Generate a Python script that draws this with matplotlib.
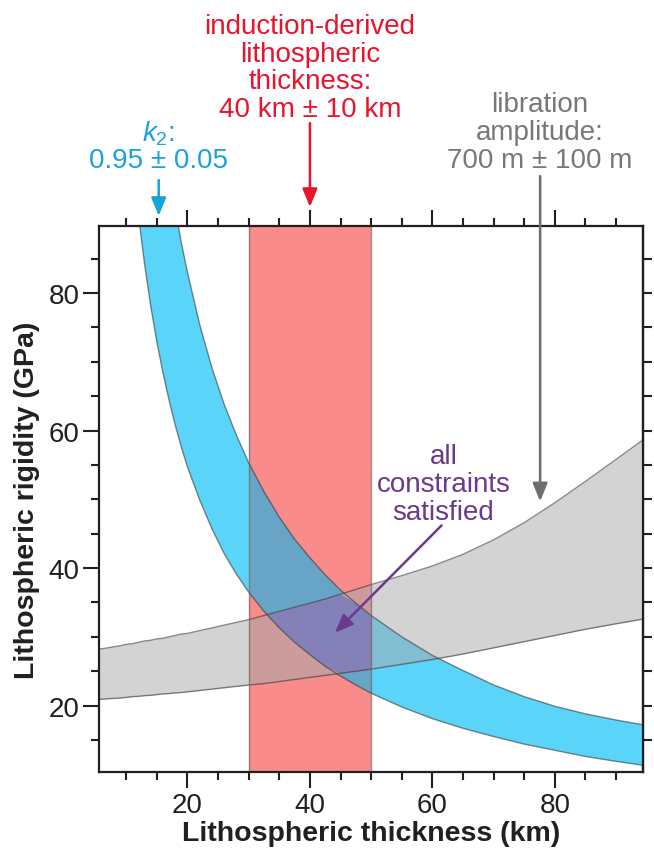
import numpy as np
import matplotlib
matplotlib.use('Agg')
import matplotlib.pyplot as plt
from matplotlib.ticker import MultipleLocator
from matplotlib.transforms import blended_transform_factory

plt.rcParams['font.family'] = ['Liberation Sans', 'DejaVu Sans']
plt.rcParams['mathtext.fontset'] = 'custom'
plt.rcParams['mathtext.rm'] = 'Liberation Sans'
plt.rcParams['mathtext.it'] = 'Liberation Sans:italic'

# lithospheric thickness (km) grid the curves were read at
thickness = np.array([5.5, 7, 9, 10, 11, 12, 13, 14, 15, 16, 17, 18, 19, 20, 22, 24, 26, 28,
                      30, 32.5, 35, 37.5, 40, 42.5, 45, 47.5, 50, 55, 60, 65, 70, 75, 80, 85, 90, 94.5])

# k2 = 0.95 +/- 0.05 band (rigidity, GPa)
k2_low = np.array([199, 156, 121.5, 109.4, 99.5, 91.2, 84.2, 78.1, 72.9, 68.4, 64.4, 60.8, 57.6, 54.7,
                   49.9, 45.7, 42.1, 39.1, 36.5, 33.7, 31.3, 29.2, 27.4, 25.7, 24.3, 23.0, 21.8,
                   19.8, 18.1, 16.7, 15.5, 14.4, 13.5, 12.6, 11.9, 11.3])
k2_high = np.array([302, 237, 184, 166, 151, 138, 128, 118.5, 110.6, 103.7, 97.6, 92.2, 87.3, 83.0,
                    75.4, 69.1, 63.8, 59.3, 55.3, 51.1, 47.4, 44.2, 41.5, 39.0, 36.8, 34.9, 33.1,
                    30.0, 27.3, 25.1, 23.0, 21.3, 19.9, 18.8, 17.9, 17.2])

# libration amplitude 700 m +/- 100 m band
lib_low = np.array([20.9, 21.0, 21.1, 21.2, 21.3, 21.35, 21.45, 21.5, 21.6, 21.7, 21.75, 21.85, 21.9, 22.0,
                    22.2, 22.4, 22.6, 22.8, 23.0, 23.2, 23.5, 23.8, 24.1, 24.4, 24.7, 25.0, 25.3,
                    26.0, 26.7, 27.5, 28.4, 29.3, 30.2, 31.1, 31.9, 32.6])
lib_high = np.array([28.2, 28.4, 28.7, 28.9, 29.0, 29.2, 29.4, 29.5, 29.7, 29.8, 30.0, 30.2, 30.4, 30.5,
                     30.9, 31.3, 31.7, 32.1, 32.5, 33.1, 33.7, 34.3, 34.9, 35.5, 36.2, 36.9, 37.6,
                     38.9, 40.3, 42.0, 44.1, 46.6, 49.5, 52.6, 55.8, 58.7])

# induction-derived thickness 40 +/- 10 km
ind_low, ind_high = 30, 50

c_blue = '#5AD5F9'
c_red = '#F98B8B'
c_gray = '#D3D3D3'
c_blue_gray = '#82BED2'
c_blue_red = '#68A4C6'
c_red_gray = '#CC9B9B'
c_all = '#8480B8'

t_blue = '#1AA3DA'
t_red = '#E8142E'
t_gray = '#77787B'
t_purple = '#6B3A8C'
dark = '#231F20'

fig = plt.figure(figsize=(6.54, 8.54), dpi=100)
ax = fig.add_axes([99 / 654, 1 - 773.3 / 854, (643.3 - 99) / 654, (773.3 - 227.3) / 854])

x = thickness
ax.fill_between(x, k2_low, k2_high, color=c_blue, lw=0)
ax.fill_between(x, lib_low, lib_high, color=c_gray, lw=0)
lo = np.maximum(k2_low, lib_low)
hi = np.minimum(k2_high, lib_high)
ax.fill_between(x, lo, hi, where=lo < hi, interpolate=True, color=c_blue_gray, lw=0)

ax.axvspan(ind_low, ind_high, color=c_red, lw=0)
m = (x >= ind_low) & (x <= ind_high)
ax.fill_between(x[m], k2_low[m], k2_high[m], color=c_blue_red, lw=0)
ax.fill_between(x[m], lib_low[m], lib_high[m], color=c_red_gray, lw=0)
ax.fill_between(x[m], lo[m], hi[m], where=lo[m] < hi[m], interpolate=True, color=c_all, lw=0)

for yy in (k2_low, k2_high, lib_low, lib_high):
    ax.plot(x, yy, color='#3a3a3a', lw=1.0, alpha=0.6)
for xv in (ind_low, ind_high):
    ax.axvline(xv, color='#6a6a6a', lw=1.0, alpha=0.7)

ax.set_xlim(5.55, 94.45)
ax.set_ylim(10.3, 89.7)

ax.xaxis.set_major_locator(MultipleLocator(20))
ax.xaxis.set_minor_locator(MultipleLocator(5))
ax.yaxis.set_major_locator(MultipleLocator(20))
ax.yaxis.set_minor_locator(MultipleLocator(5))
ax.tick_params(which='both', direction='out', width=1.5, color=dark, labelsize=20, labelcolor=dark,
               top=True, right=False)
ax.tick_params(which='major', length=11.5)
ax.tick_params(which='minor', length=6)
ax.tick_params(axis='x', pad=3)
ax.tick_params(axis='y', pad=2.5)
for s in ax.spines.values():
    s.set_linewidth(1.6)
    s.set_color(dark)

sec = ax.secondary_yaxis('right')
sec.yaxis.set_major_locator(MultipleLocator(20))
sec.yaxis.set_minor_locator(MultipleLocator(5))
sec.tick_params(which='both', direction='out', length=6.5, width=1.5, color=dark, labelright=False)
sec.spines['right'].set_linewidth(1.6)
sec.spines['right'].set_color(dark)

ax.set_xlabel('Lithospheric thickness (km)', fontsize=20.5, fontweight='bold', color=dark, labelpad=1)
ax.set_ylabel('Lithospheric rigidity (GPa)', fontsize=20.5, fontweight='bold', color=dark, labelpad=6)

tr = blended_transform_factory(ax.transData, ax.transAxes)

# va='baseline' anchors the last line of a multi-line text
ax.text(40, 1.2015, 'induction-derived\nlithospheric\nthickness:\n40 km \u00b1 10 km', transform=tr,
        ha='center', va='baseline', fontsize=20, color=t_red, linespacing=1.09)
ax.text(15.3, 1.1086, r'$\mathit{k}_{\mathit{2}}$:' + '\n0.95 \u00b1 0.05', transform=tr,
        ha='center', va='baseline', fontsize=20, color=t_blue, linespacing=1.0)
ax.text(77.6, 1.1086, 'libration\namplitude:\n700 m \u00b1 100 m', transform=tr,
        ha='center', va='baseline', fontsize=20, color=t_gray, linespacing=1.09)
ax.text(61.8, 47.16, 'all\nconstraints\nsatisfied', ha='center', va='baseline',
        fontsize=20, color=t_purple, linespacing=1.09)

style = '-|>,head_length=1.1,head_width=0.45'
ax.annotate('', xy=(40, 1.0353), xycoords=tr, xytext=(40, 1.189), textcoords=tr,
            annotation_clip=False,
            arrowprops=dict(arrowstyle=style, color=t_red, lw=1.8, shrinkA=0, shrinkB=0))
ax.annotate('', xy=(15.3, 1.0189), xycoords=tr, xytext=(15.3, 1.0848), textcoords=tr,
            annotation_clip=False,
            arrowprops=dict(arrowstyle=style, color=t_blue, lw=1.8, shrinkA=0, shrinkB=0))
ax.annotate('', xy=(77.6, 49.7), xycoords='data', xytext=(77.6, 1.092), textcoords=tr,
            annotation_clip=False,
            arrowprops=dict(arrowstyle=style, color='#6D6E71', lw=1.8, shrinkA=0, shrinkB=0))
ax.annotate('', xy=(44.1, 30.6), xycoords='data', xytext=(61.5, 46.2), textcoords='data',
            arrowprops=dict(arrowstyle=style, color=t_purple, lw=1.8, shrinkA=0, shrinkB=0))

fig.savefig('out.png', dpi=100)
